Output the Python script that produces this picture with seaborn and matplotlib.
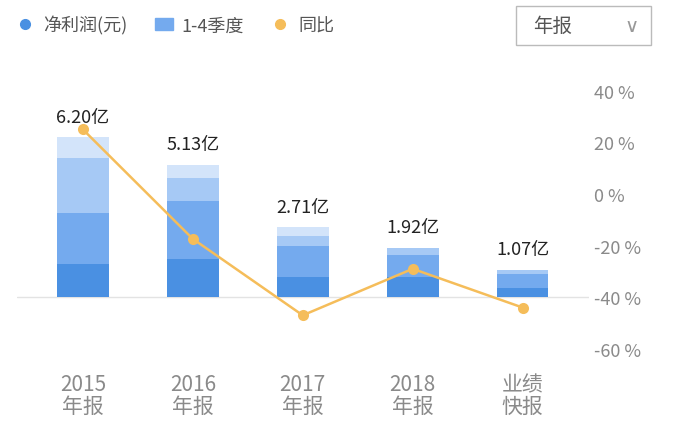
import numpy as np
import matplotlib
matplotlib.use("Agg")
import matplotlib.pyplot as plt
import seaborn as sns
from matplotlib.patches import FancyBboxPatch
from matplotlib.lines import Line2D
from matplotlib.patches import Patch

sns.set_style("white")
plt.rcParams['font.family'] = ['Noto Sans CJK SC', 'DejaVu Sans']

years = ['2015\n年报', '2016\n年报', '2017\n年报', '2018\n年报', '业绩\n快报']
totals = ['6.20亿', '5.13亿', '2.71亿', '1.92亿', '1.07亿']
q1 = [1.28, 1.47, 0.78, 0.78, 0.35]
q2 = [2.00, 2.25, 1.20, 0.87, 0.55]
q3 = [2.13, 0.89, 0.39, 0.27, 0.17]
q4 = [0.79, 0.52, 0.34, 0.00, 0.00]
yoy = [25.0, -17.4, -47.0, -29.0, -44.0]

colors = ['#4a90e2', '#74aaee', '#a6c9f5', '#d3e4fa']
line_c = '#f5bd5a'

fig = plt.figure(figsize=(6.75, 4.35), dpi=100)
ax = fig.add_axes([0.025, 0.166, 0.847, 0.653])
x = np.arange(len(years))
bottom = np.zeros(len(years))
for seg, c in zip([q1, q2, q3, q4], colors):
    sns.barplot(x=x, y=seg, bottom=bottom, color=c, width=0.47, ax=ax,
                saturation=1, native_scale=True, linewidth=0)
    bottom = bottom + np.array(seg)
ax.axhline(0, color='#e3e3e3', lw=1, zorder=0)
for xi, top, t in zip(x, bottom, totals):
    ax.text(xi, top + 0.45, t, ha='center', va='bottom', fontsize=13, color='#222222')
ax.set_xlim(-0.6, 4.6)
ax.set_ylim(-2.5, 8.5)
ax.set_yticks([])
ax.set_xticks(x)
ax.set_xticklabels(years, fontsize=15, color='#8a8a8a', linespacing=1.0)
ax.tick_params(axis='x', length=0, pad=8)
for s in ax.spines.values():
    s.set_visible(False)

ax2 = ax.twinx()
sns.lineplot(x=x, y=yoy, color=line_c, lw=1.8, marker='o', markersize=8,
             markeredgewidth=0, ax=ax2)
ax2.set_ylim(-65, 45)
ax2.set_yticks([40, 20, 0, -20, -40, -60])
ax2.set_yticklabels(['40 %', '20 %', '0 %', '-20 %', '-40 %', '-60 %'],
                    fontsize=13, color='#8a8a8a')
ax2.tick_params(axis='y', length=0, pad=4)
for s in ax2.spines.values():
    s.set_visible(False)

handles = [Line2D([], [], marker='o', ls='', color='#4a90e2', markersize=7),
           Patch(color='#74aaee'),
           Line2D([], [], marker='o', ls='', color=line_c, markersize=7)]
fig.legend(handles, ['净利润(元)', '1-4季度', '同比'], loc='upper left',
           bbox_to_anchor=(0.0, 1.0), ncol=3, frameon=False, fontsize=13,
           labelcolor='#555555', handlelength=1.0, handletextpad=0.5, columnspacing=1.5)

box = FancyBboxPatch((0.765, 0.895), 0.2, 0.09, boxstyle='square,pad=0',
                     transform=fig.transFigure, fill=False, ec='#bbbbbb', lw=1)
fig.patches.append(box)
fig.text(0.79, 0.94, '年报', fontsize=14, color='#555555', va='center')
fig.text(0.935, 0.94, '∨', fontsize=14, color='#999999', va='center', ha='center',
         family='DejaVu Sans')

fig.savefig('out.png', dpi=100)
